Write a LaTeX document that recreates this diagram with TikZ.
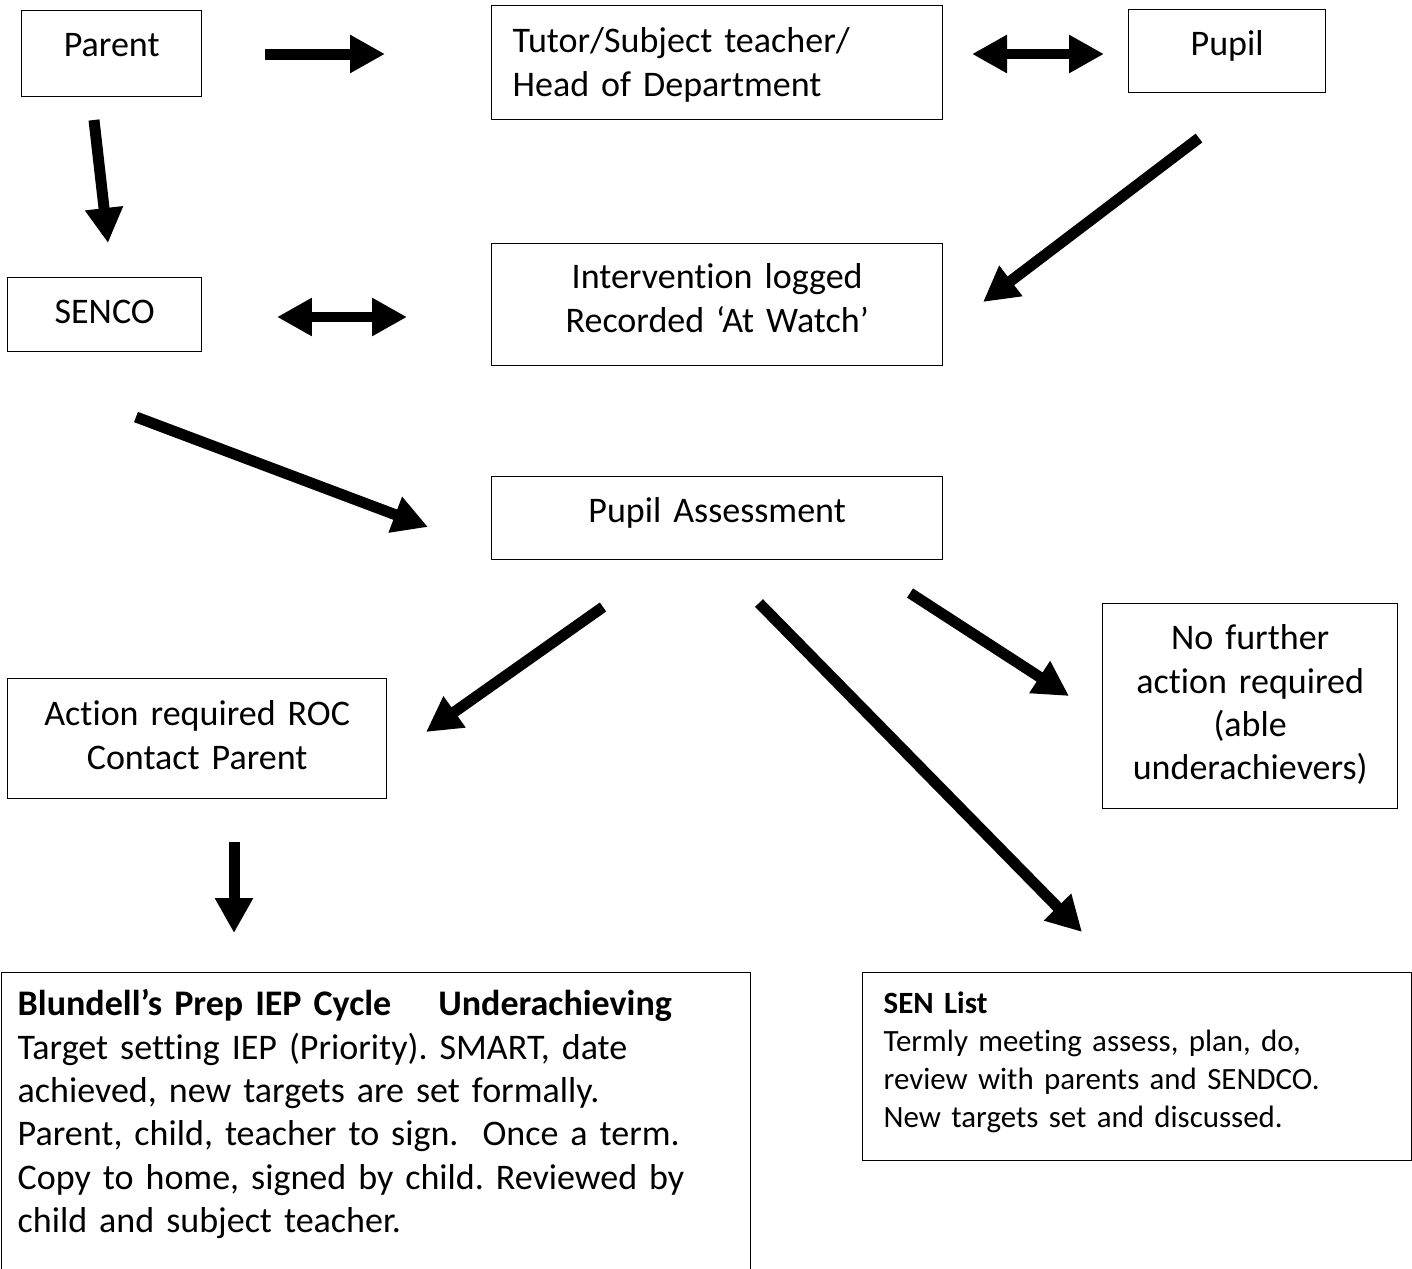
\documentclass[tikz,border=0pt]{standalone}
\usepackage{fontspec}
\setmainfont{Carlito}[Ligatures={TeX,NoCommon,NoRequired,NoContextual,NoRare}]
\usetikzlibrary{arrows.meta}
\frenchspacing

\newcommand\boxfont{\fontsize{20.5pt}{24.7pt}\selectfont}
\newcommand\listfont{\fontsize{17.6pt}{21.6pt}\selectfont}

\begin{document}
\begin{tikzpicture}[x=0.02cm, y=-0.02cm,
    box/.style={draw, line width=0.8pt, inner sep=0pt, anchor=north west, font=\boxfont},
    bigarrow/.style={line width=0.22cm, -{Triangle[length=0.7cm, width=0.72cm]}},
    twoway/.style={line width=0.2cm, {Triangle[length=0.7cm, width=0.72cm]}-{Triangle[length=0.7cm, width=0.72cm]}}]
  \useasboundingbox (0,0) rectangle (1412,1268);

  % boxes
  \node[box, text width=3.6cm, align=center, text height=0.92cm, text depth=0.8cm] (parent) at (21,10) {Parent};
  \node[box, inner xsep=0.42cm, text width=8.18cm, align=left, text height=0.94cm, text depth=1.34cm] (tutor) at (491,5)
    {Tutor/Subject teacher/\\Head of Department};
  \node[box, text width=3.94cm, align=center, text height=0.92cm, text depth=0.74cm] (pupil) at (1128,9) {Pupil};
  \node[box, text width=3.88cm, align=center, text height=0.92cm, text depth=0.56cm] (senco) at (7,277) {SENCO};
  \node[box, text width=9.02cm, align=center, text height=0.9cm, text depth=1.54cm] (logged) at (491,243)
    {Intervention logged\\Recorded ‘At Watch’};
  \node[box, text width=9.02cm, align=center, text height=0.92cm, text depth=0.74cm] (assess) at (491,476) {Pupil Assessment};
  \node[box, text width=7.58cm, align=center, text height=0.94cm, text depth=1.46cm] (action) at (7,678)
    {Action required ROC\\Contact Parent};
  \node[box, text width=5.9cm, align=center, text height=0.92cm, text depth=3.18cm] (nofurther) at (1102,603)
    {No further\\action required\\(able\\underachievers)};
  \node[box, inner xsep=0.32cm, text width=14.34cm, align=left, text height=0.86cm, text depth=5.8cm] (iep) at (1,972)
    {\textbf{Blundell’s Prep IEP Cycle\hspace{0.94cm}Underachieving}\\
     Target setting IEP (Priority). SMART, date\\
     achieved, new targets are set formally.\\
     Parent, child, teacher to sign.\ \ Once a term.\\
     Copy to home, signed by child. Reviewed by\\
     child and subject teacher.};
  \node[box, font=\listfont, inner xsep=0.42cm, text width=10.14cm, align=left, text height=0.82cm, text depth=2.94cm] (senlist) at (862,972)
    {\textbf{SEN List}\\
     Termly meeting assess, plan, do,\\
     review with parents and SENDCO.\\
     New targets set and discussed.};

  % arrow ends
  \coordinate (parent-a) at (265,54);   \coordinate (tutor-a) at (385,54);
  \coordinate (tutor-b) at (972,54);    \coordinate (pupil-b) at (1104,54);
  \coordinate (parent-c) at (94,120);   \coordinate (senco-c) at (108,243);
  \coordinate (pupil-d) at (1199,138);  \coordinate (logged-d) at (983,302);
  \coordinate (senco-e) at (277,317);   \coordinate (logged-e) at (407,317);
  \coordinate (senco-f) at (136,417);   \coordinate (assess-f) at (428,527);
  \coordinate (assess-g) at (603,607);  \coordinate (action-g) at (426,732);
  \coordinate (assess-h) at (759,603);  \coordinate (senlist-h) at (1082,932);
  \coordinate (assess-i) at (910,593);  \coordinate (nofurther-i) at (1069,696);
  \coordinate (action-j) at (234,842);  \coordinate (iep-j) at (234,933);

  \draw[bigarrow] (parent-a) -- (tutor-a);
  \draw[twoway] (tutor-b) -- (pupil-b);
  \draw[bigarrow] (parent-c) -- (senco-c);
  \draw[bigarrow] (pupil-d) -- (logged-d);
  \draw[twoway] (senco-e) -- (logged-e);
  \draw[bigarrow] (senco-f) -- (assess-f);
  \draw[bigarrow] (assess-g) -- (action-g);
  \draw[bigarrow] (assess-h) -- (senlist-h);
  \draw[bigarrow] (assess-i) -- (nofurther-i);
  \draw[bigarrow] (action-j) -- (iep-j);
\end{tikzpicture}
\end{document}
